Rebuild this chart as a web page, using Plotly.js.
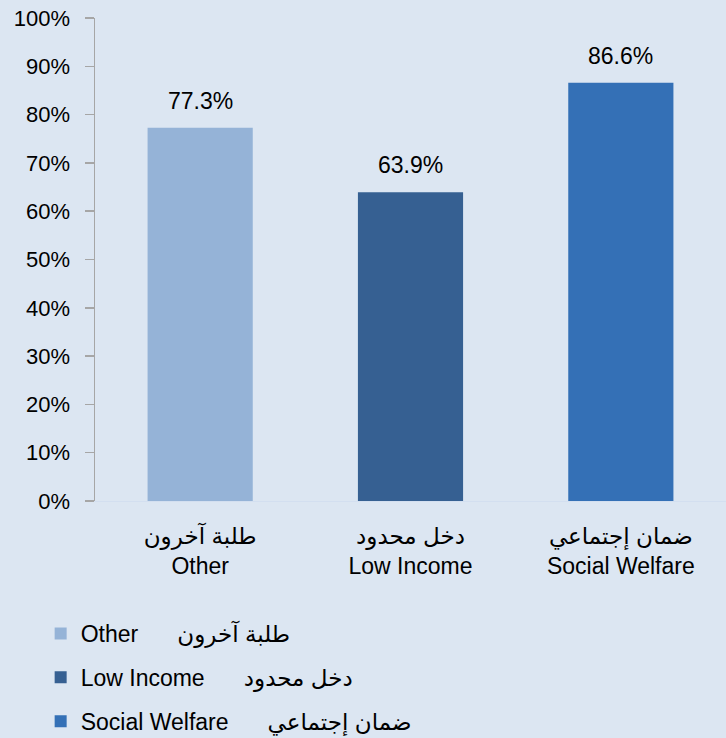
<!DOCTYPE html>
<html>
<head>
<meta charset="utf-8">
<script src="https://cdn.plot.ly/plotly-3.0.1.min.js"></script>
<style>html,body{margin:0;padding:0;background:#dce6f2;}</style>
</head>
<body>
<div id="chart" style="width:726px;height:738px;"></div>
<script>
const categoriesEn = ["Other", "Low Income", "Social Welfare"];
const categoriesAr = ["طلبة آخرون", "دخل محدود", "ضمان إجتماعي"];
const values = [77.3, 63.9, 86.6];
const barColors = ["#95b3d7", "#366092", "#3470b6"];
const yTickVals = [0, 10, 20, 30, 40, 50, 60, 70, 80, 90, 100];
const yTickText = yTickVals.map(v => v + "%");

const FONT = "Liberation Sans, Arial, DejaVu Sans, sans-serif";
const xLabels = categoriesEn.map((en, i) => categoriesAr[i] + "<br>" + en);

const traces = categoriesEn.map((en, i) => ({
  type: "bar",
  x: [xLabels[i]],
  y: [values[i]],
  name: en + "\u2003\u2002\u2009" + categoriesAr[i],
  legendgroup: "g" + i,
  marker: {color: barColors[i], line: {width: 0}},
  hoverinfo: "skip"
}));

const annotations = categoriesEn.map((en, i) => ({
  x: xLabels[i], y: values[i], xref: "x", yref: "y",
  text: values[i].toFixed(1) + "%",
  showarrow: false, yanchor: "bottom", yshift: 12,
  font: {family: FONT, size: 23, color: "#000000"}
}));

const layout = {
  width: 726, height: 738,
  paper_bgcolor: "#dce6f2", plot_bgcolor: "#dce6f2",
  margin: {l: 95, r: 0, t: 18, b: 237, autoexpand: false},
  barmode: "overlay",
  bargap: 0.5,
  font: {family: FONT, size: 22, color: "#000000"},
  xaxis: {
    type: "category",
    showline: true, linecolor: "#d3dff0", linewidth: 1,
    ticks: "", showgrid: false, zeroline: false,
    tickangle: 0, automargin: false,
    tickfont: {family: FONT, size: 23, color: "#000000"},
    ticklabelstandoff: 14
  },
  yaxis: {
    range: [0, 100], automargin: false,
    tickvals: yTickVals, ticktext: yTickText,
    showline: true, linecolor: "#a6a6a6", linewidth: 1.5,
    ticks: "outside", ticklen: 9, tickcolor: "#a6a6a6", tickwidth: 1.5,
    showgrid: false, zeroline: false,
    ticklabelstandoff: 10,
    tickfont: {family: FONT, size: 22, color: "#000000"}
  },
  showlegend: true,
  legend: {
    xref: "container", yref: "container",
    x: 0.056, y: 1 - 612 / 738, xanchor: "left", yanchor: "top",
    orientation: "v", traceorder: "grouped",
    tracegroupgap: 11,
    bgcolor: "rgba(0,0,0,0)",
    font: {family: FONT, size: 23, color: "#000000"}
  },
  annotations: annotations
};

Plotly.newPlot("chart", traces, layout, {displayModeBar: false, staticPlot: true});
</script>
</body>
</html>
